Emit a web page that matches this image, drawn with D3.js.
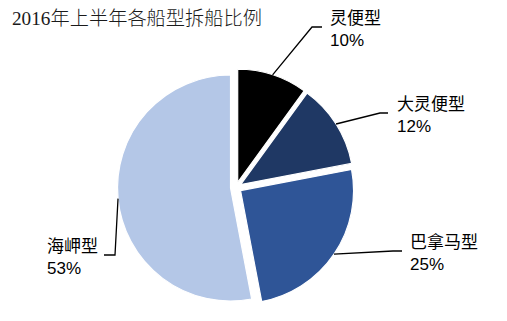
<!DOCTYPE html>
<html><head><meta charset="utf-8">
<script src="https://cdn.jsdelivr.net/npm/d3@7"></script>
<style>body{margin:0;background:#fff}svg{display:block}</style>
</head><body>
<svg id="c" width="507" height="321"></svg>
<script>
const categories = ["灵便型", "大灵便型", "巴拿马型", "海岬型"];
const values = [10, 12, 25, 53];
const colors = ["#000000", "#1F3864", "#2F5597", "#B4C7E7"];
const titleText = "2016年上半年各船型拆船比例";
// layout: label anchor (x, first baseline) and leader elbow
const labelLayout = [
  {x: 330, y: 24, elbow: [312, 27], end: [322, 27]},
  {x: 397, y: 110, elbow: [380, 113], end: [388, 113]},
  {x: 410, y: 248, elbow: [393, 251], end: [402, 251]},
  {x: 47, y: 252, elbow: [115, 255], end: [104, 255]}
];

const svg = d3.select("#c");
const cx = 236, cy = 187.5, R = 113, explode = 5.5;

svg.append("text").attr("x", 12).attr("y", 25).attr("fill", "#1a1a1a")
  .attr("font-family", "'Liberation Serif', 'Noto Sans CJK SC', serif")
  .attr("font-weight", 300).attr("font-size", 19)
  .attr("textLength", 250).attr("lengthAdjust", "spacingAndGlyphs")
  .text(titleText);

const pie = d3.pie().sort(null).value(d => d)(values);
const arc = d3.arc().innerRadius(0).outerRadius(R);

const g = svg.append("g").attr("transform", `translate(${cx},${cy})`);
pie.forEach((p, i) => {
  const mid = (p.startAngle + p.endAngle) / 2;
  const ox = explode * Math.sin(mid), oy = -explode * Math.cos(mid);
  g.append("path").attr("d", arc(p))
    .attr("transform", `translate(${ox},${oy})`)
    .attr("fill", colors[i]).attr("stroke", "#fff").attr("stroke-width", 1.2);
  const sx = cx + ox + R * Math.sin(mid), sy = cy + oy - R * Math.cos(mid);
  const L = labelLayout[i];
  svg.append("path")
    .attr("d", `M${sx},${sy}L${L.elbow[0]},${L.elbow[1]}L${L.end[0]},${L.end[1]}`)
    .attr("fill", "none").attr("stroke", "#000").attr("stroke-width", 1.3);
  const t = svg.append("text").attr("x", L.x).attr("y", L.y)
    .attr("font-size", 17).attr("fill", "#000");
  t.append("tspan").attr("x", L.x).attr("font-family", "Noto Sans CJK SC").text(categories[i]);
  t.append("tspan").attr("x", L.x).attr("dy", 22)
    .attr("font-family", "Liberation Sans, Arial, sans-serif").text(values[i] + "%");
});
</script>
</body></html>
